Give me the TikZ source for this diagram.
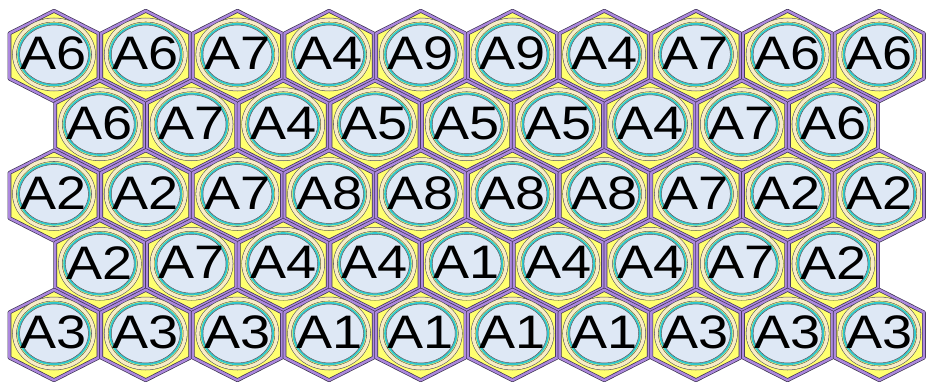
\documentclass[tikz,border=0pt]{standalone}
\usepackage{fontspec}
\setmainfont{Liberation Sans}

\definecolor{hexyellow}{RGB}{255,255,112}
\definecolor{hexpurple}{RGB}{172,136,222}
\definecolor{hexedge}{RGB}{60,50,80}
\definecolor{ringcream}{RGB}{248,236,196}
\definecolor{ringcyan}{RGB}{50,200,205}
\definecolor{ringdark}{RGB}{80,80,80}
\definecolor{cellblue}{RGB}{222,232,245}

\tikzset{
  cell/.style={fill=hexyellow, draw=hexedge, line width=0.7pt,
    double=hexpurple, double distance=2.4pt, line join=round},
  outerring/.style={draw=ringdark, line width=0.55pt, double=ringcream,
    double distance=3.4pt},
  innerring/.style={fill=cellblue, draw=ringcyan, line width=2pt},
  innerline/.style={draw=ringdark, line width=0.45pt},
  celltext/.style={font=\fontsize{47}{47}\selectfont, inner sep=0pt,
    xscale=1.15, transform shape}
}

% one fuel cell: name, x, y, label
\newcommand{\hexcell}[4]{%
  \draw[cell] (#2,#3) ++(0,-45.2) -- ++(44.6,22.6) -- ++(0,45.2)
    -- ++(-44.6,22.6) -- ++(-44.6,-22.6) -- ++(0,-45.2) -- cycle;
  \draw[outerring] (#2,{#3-1.5}) ellipse [x radius=39.5, y radius=34.5];
  \draw[innerring] (#2,{#3-1.5}) ellipse [x radius=35.6, y radius=30.6];
  \draw[innerline] (#2,{#3-1.5}) ellipse [x radius=34.4, y radius=29.4];
  \node[celltext] (#1) at (#2,{#3-2.5}) {#4};
}

\begin{document}
\begin{tikzpicture}[x=1pt, y=-1pt]
\useasboundingbox (0,0) rectangle (929,383);

% rows of the core map
\foreach \r/\labs in {%
  0/{A6,A6,A7,A4,A9,A9,A4,A7,A6,A6},
  1/{A6,A7,A4,A5,A5,A5,A4,A7,A6},
  2/{A2,A2,A7,A8,A8,A8,A8,A7,A2,A2},
  3/{A2,A7,A4,A4,A1,A4,A4,A7,A2},
  4/{A3,A3,A3,A1,A1,A1,A1,A3,A3,A3}}{
  \pgfmathsetmacro\cy{56+69.75*\r}
  \pgfmathsetmacro\xo{54+45.85*mod(\r,2)}
  \foreach \lab [count=\i from 0] in \labs {
    \pgfmathsetmacro\cx{\xo+91.7*\i}
    \hexcell{c\r-\i}{\cx}{\cy}{\lab}
  }
}

\end{tikzpicture}
\end{document}
